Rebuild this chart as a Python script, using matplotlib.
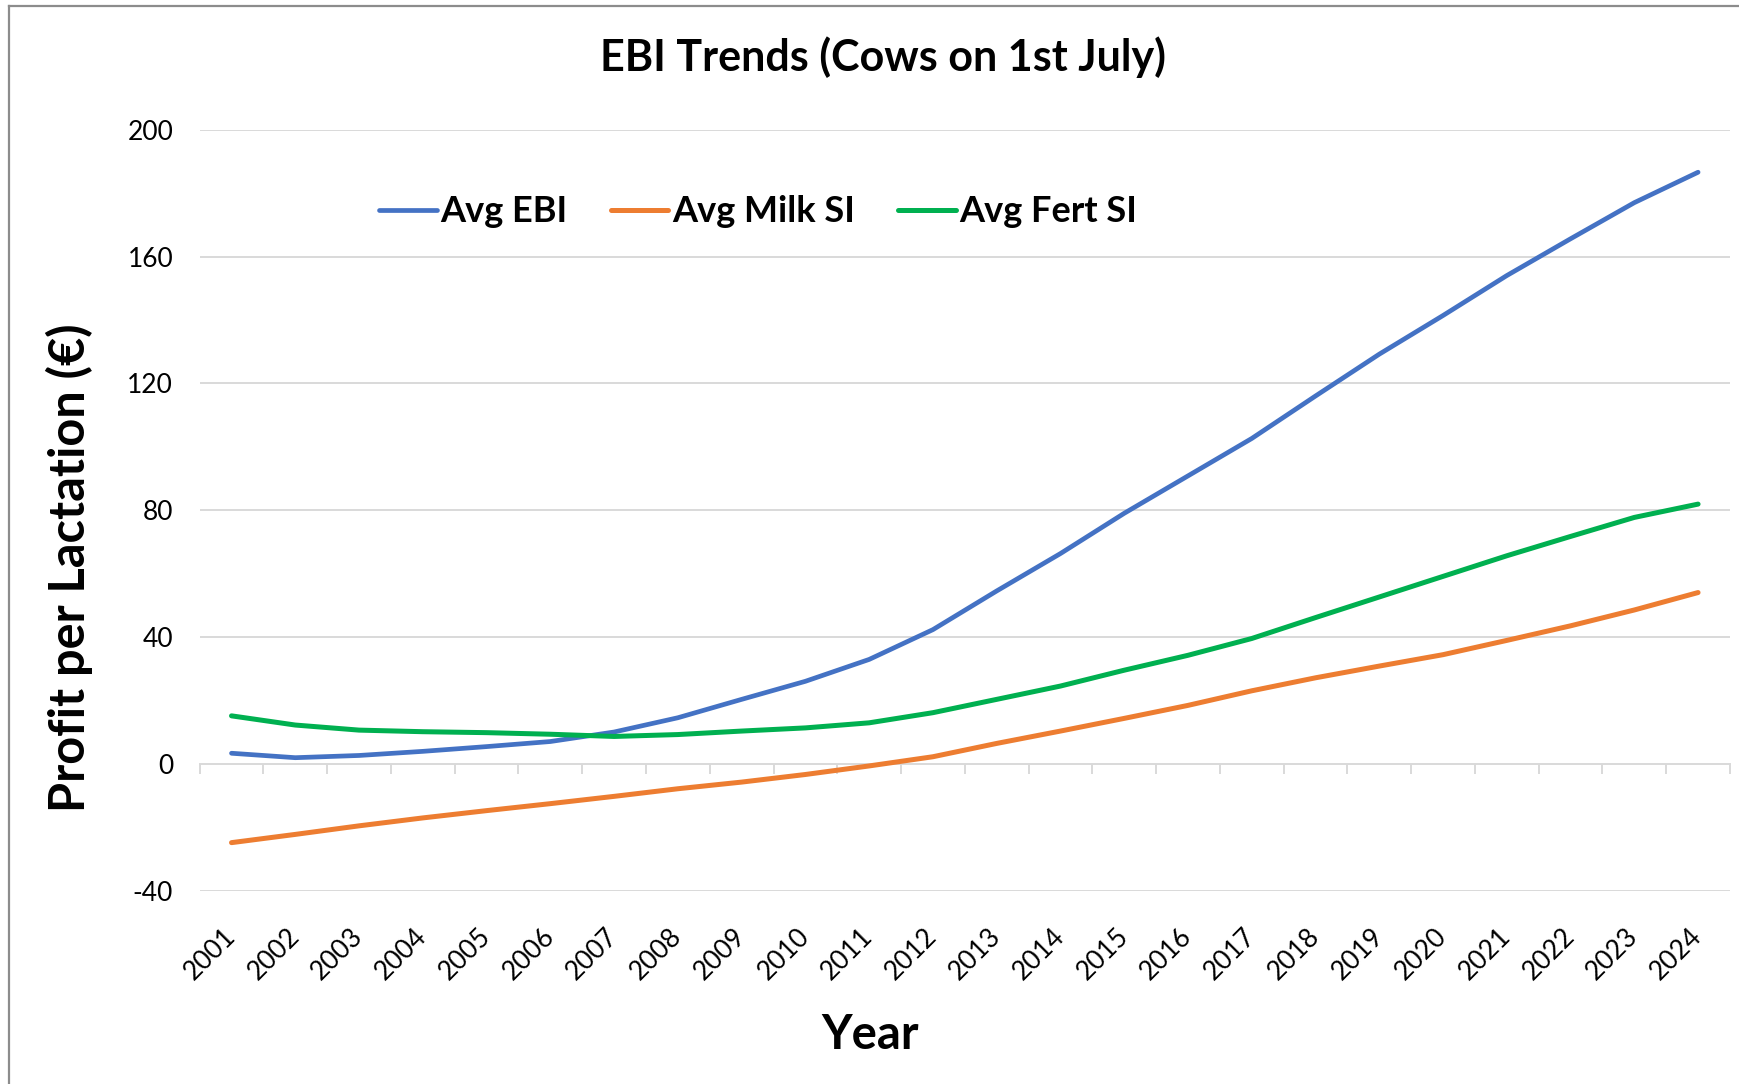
import matplotlib

matplotlib.use("Agg")
import matplotlib.pyplot as plt
from matplotlib.lines import Line2D

plt.rcParams["font.family"] = ["Lato", "DejaVu Sans"]
plt.rcParams["axes.unicode_minus"] = False

YEARS = [str(y) for y in range(2001, 2025)]
AVG_EBI = [3.3, 1.9, 2.6, 3.9, 5.4, 7.0, 10.0, 14.5, 20.3, 26.0, 32.9, 42.3,
           54.5, 66.3, 79.0, 90.8, 102.6, 116.0, 129.2, 141.4, 154.0, 165.6,
           177.0, 186.6]
AVG_MILK_SI = [-24.9, -22.3, -19.6, -17.1, -14.8, -12.6, -10.3, -7.9, -5.8,
               -3.4, -0.7, 2.2, 6.4, 10.3, 14.3, 18.4, 23.0, 27.1, 30.8, 34.4,
               38.9, 43.5, 48.5, 54.0]
AVG_FERT_SI = [15.1, 12.2, 10.6, 10.1, 9.8, 9.3, 8.6, 9.2, 10.3, 11.3, 12.9,
               16.1, 20.3, 24.5, 29.5, 34.2, 39.5, 46.1, 52.6, 59.1, 65.6, 71.7,
               77.7, 81.9]
Y_TICKS = [-40, 0, 40, 80, 120, 160, 200]

GRID = "#d9d9d9"

fig = plt.figure(figsize=(17.39, 10.84), dpi=100)
ax = fig.add_axes([0.1148, 0.1785, 0.88, 0.7018])

x = list(range(len(YEARS)))
ax.plot(x, AVG_EBI, color="#4472C4", linewidth=3.4, label="Avg EBI",
        solid_capstyle="round", zorder=3)
ax.plot(x, AVG_MILK_SI, color="#ED7D31", linewidth=3.6, label="Avg Milk SI",
        solid_capstyle="round", zorder=3)
ax.plot(x, AVG_FERT_SI, color="#00B050", linewidth=3.6, label="Avg Fert SI",
        solid_capstyle="round", zorder=3)

ymin, ymax = Y_TICKS[0], Y_TICKS[-1]
ax.set_ylim(ymin, ymax)
ax.set_xlim(-0.5, len(YEARS) - 0.5)
ax.set_yticks(Y_TICKS)
ax.set_yticklabels([str(v) for v in Y_TICKS])
ax.tick_params(axis="y", length=0, pad=19, labelsize=19)
for v in Y_TICKS:
    if v != 0:
        ax.axhline(v, color=GRID, linewidth=1.4, zorder=1)

ax.set_xticks(x)
ax.set_xticklabels(YEARS, rotation=45, ha="right", va="center",
                   rotation_mode="anchor")
ax.tick_params(axis="x", length=0, pad=30, labelsize=19)

for s in ax.spines.values():
    s.set_visible(False)

# category axis drawn at y = 0 with ticks between categories
sec = ax.secondary_xaxis((0 - ymin) / (ymax - ymin))
sec.set_xticks([i - 0.5 for i in range(len(YEARS) + 1)])
sec.set_xticklabels([])
sec.tick_params(axis="x", length=7, width=1.4, color=GRID, direction="out")
sec.spines["bottom"].set_color(GRID)
sec.spines["bottom"].set_linewidth(1.4)

fig.text(0.508, 0.947, "EBI Trends (Cows on 1st July)", ha="center",
         va="center", fontsize=31, fontweight="bold")
fig.text(0.5006, 0.0455, "Year", ha="center", va="center", fontsize=34,
         fontweight="bold")
fig.text(0.0397, 0.476, "Profit per Lactation (€)", ha="center", va="center",
         rotation=90, fontsize=35, fontweight="bold")

fig.legend(loc="center", bbox_to_anchor=(0.436, 0.8045), ncol=3,
           frameon=False, handlelength=1.6, handletextpad=0.1,
           columnspacing=1.2, prop={"weight": "bold", "size": 26})

# chart border (left and top edges visible)
fig.add_artist(Line2D([0.0052, 0.0052], [0, 0.9945], color="#8c8c8c",
                      linewidth=1.6, transform=fig.transFigure))
fig.add_artist(Line2D([0.0052, 1], [0.9945, 0.9945], color="#8c8c8c",
                      linewidth=1.6, transform=fig.transFigure))

fig.savefig("out.png", dpi=100, facecolor="white")
